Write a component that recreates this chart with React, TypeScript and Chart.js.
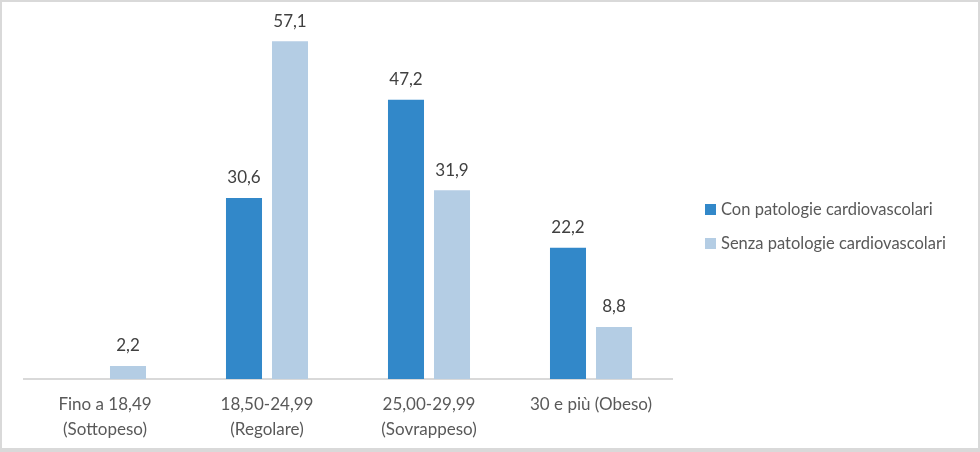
import React, { useEffect, useRef } from "react";
import { Chart, registerables } from "chart.js";

Chart.register(...registerables);

const categories: string[][] = [
  ["Fino a 18,49", "(Sottopeso)"],
  ["18,50-24,99", "(Regolare)"],
  ["25,00-29,99", "(Sovrappeso)"],
  ["30 e più (Obeso)"],
];
const conPatologie: (number | null)[] = [null, 30.6, 47.2, 22.2];
const senzaPatologie: number[] = [2.2, 57.1, 31.9, 8.8];
const seriesNames: string[] = ["Con patologie cardiovascolari", "Senza patologie cardiovascolari"];
const seriesColors: string[] = ["#3288C9", "#B4CDE4"];

const FONT = "Lato, 'Liberation Sans', sans-serif";

const fmt = (v: number) => v.toFixed(1).replace(".", ",");

const labelPlugin = {
  id: "valueLabels",
  afterDatasetsDraw(chart: any) {
    const ctx = chart.ctx;
    ctx.save();
    ctx.font = `17px ${FONT}`;
    ctx.fillStyle = "#404040";
    ctx.textAlign = "center";
    ctx.textBaseline = "middle";
    chart.data.datasets.forEach((ds: any, i: number) => {
      const meta = chart.getDatasetMeta(i);
      meta.data.forEach((bar: any, j: number) => {
        const v = ds.data[j];
        if (v === null || v === undefined) return;
        ctx.fillText(fmt(v), bar.x, bar.y - 20);
      });
    });
    ctx.restore();
  },
};

const legendPlugin = {
  id: "customLegend",
  afterDraw(chart: any) {
    const ctx = chart.ctx;
    ctx.save();
    ctx.font = `16.5px ${FONT}`;
    ctx.textBaseline = "middle";
    ctx.textAlign = "left";
    chart.data.datasets.forEach((ds: any, i: number) => {
      const cy = 207 + i * 34;
      ctx.fillStyle = ds.backgroundColor;
      ctx.fillRect(703, cy - 5, 11, 11);
      ctx.fillStyle = "#595959";
      ctx.fillText(ds.label, 719, cy + 1);
    });
    ctx.restore();
  },
};

export default function App() {
  const ref = useRef<HTMLCanvasElement>(null);
  useEffect(() => {
    if (!ref.current) return;
    const chart = new Chart(ref.current, {
      type: "bar",
      data: {
        labels: categories,
        datasets: [
          {
            label: seriesNames[0],
            data: conPatologie,
            backgroundColor: seriesColors[0],
            categoryPercentage: 0.568,
            barPercentage: 0.783,
          },
          {
            label: seriesNames[1],
            data: senzaPatologie,
            backgroundColor: seriesColors[1],
            categoryPercentage: 0.568,
            barPercentage: 0.783,
          },
        ],
      },
      options: {
        animation: false,
        responsive: false,
        maintainAspectRatio: false,
        layout: { padding: { left: 22, right: 306, top: 22, bottom: 9 } },
        plugins: {
          legend: { display: false },
          tooltip: { enabled: false },
        },
        scales: {
          x: {
            grid: { display: false, drawTicks: false },
            border: { display: true, color: "#D9D9D9", width: 2 },
            ticks: {
              color: "#595959",
              font: { family: FONT, size: 17, lineHeight: 1.47 },
              padding: 13,
              maxRotation: 0,
              autoSkip: false,
            },
            afterFit: (s: any) => {
              s.height = 60;
            },
          },
          y: {
            display: false,
            min: 0,
            max: 60,
          },
        },
      },
      plugins: [labelPlugin, legendPlugin],
    });
    return () => chart.destroy();
  }, []);
  return (
    <div
      style={{
        position: "fixed",
        left: 0,
        top: 0,
        width: 980,
        height: 452,
        boxSizing: "border-box",
        border: "2px solid #D9D9D9",
        borderBottomWidth: 4,
        background: "#fff",
        overflow: "hidden",
      }}
    >
      <canvas ref={ref} width={976} height={446} style={{ display: "block" }} />
    </div>
  );
}
